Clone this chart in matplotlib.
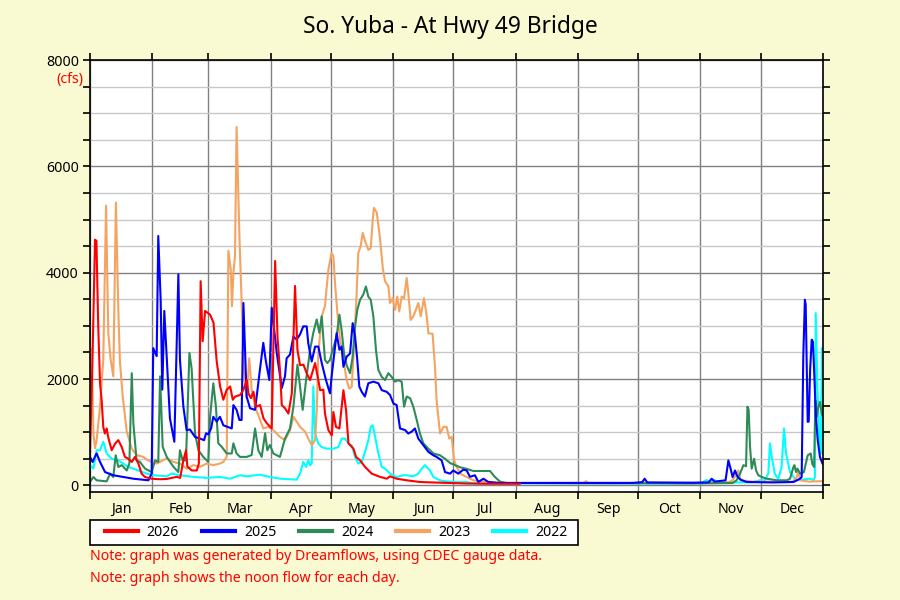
import matplotlib
matplotlib.use("Agg")
import matplotlib.pyplot as plt
from matplotlib.patches import Rectangle
from matplotlib.ticker import FixedLocator, MultipleLocator, NullFormatter

plt.rcParams["font.family"] = ["Noto Sans", "DejaVu Sans"]

# ---- data (day of year, noon flow in cfs) ----
MONTHS = ["Jan", "Feb", "Mar", "Apr", "May", "Jun",
          "Jul", "Aug", "Sep", "Oct", "Nov", "Dec"]
MONTH_START = [0, 31, 59, 90, 120, 151, 181, 212, 243, 273, 304, 334, 365]

DAY_2026 = [0, 1.2, 2.5, 3.2, 4.1, 5.0, 5.8, 6.6, 7.4, 8.3, 9.1, 10.8, 12.5, 14.1,
            15.8, 17.4, 19.1, 20.8, 22.4, 24.1, 25.7, 27.4, 30.7, 35, 38.2, 43.2,
            44.9, 46.5, 47.8, 48.5, 50.7, 53.2, 54.2, 55.1, 56.1, 57.3, 59.8, 61.5,
            63.1, 64.8, 66.4, 68.1, 69.8, 71.1, 72.3, 74.8, 76.4, 78.1, 78.9, 80.1,
            81.4, 82.7, 84.7, 86.4, 88.0, 90.5, 92.2, 93.4, 94.7, 95.5, 97.1, 98.8,
            100.5, 102.1, 103.3, 104.6, 106.3, 108, 109.6, 112.1, 113.7, 114.6,
            116.2, 117.0, 118.7, 120.4, 121.2, 122.5, 124.2, 126.2, 127.5, 128.7,
            131.2, 132.5, 134.5, 137.0, 140.3, 144.4, 147.8, 149.4, 152.7, 157.7,
            164.3, 174.3, 187.6, 197.5, 214]
CFS_2026 = [600, 2300, 4620, 4600, 2990, 1920, 1600, 1100, 975, 1070, 900, 660, 785, 850,
            720, 535, 500, 440, 535, 410, 220, 157, 125, 115, 120, 160,
            140, 470, 660, 350, 280, 280, 410, 3840, 2710, 3280, 3210, 3060,
            2330, 1860, 1610, 1800, 1860, 1610, 1670, 1700, 1800, 1980, 1730, 1640,
            1760, 1480, 1510, 1260, 1170, 1070, 4220, 2770, 2110, 1510, 1450, 1350,
            1730, 3750, 2550, 2260, 2270, 2100, 1980, 2300, 1980, 1790,
            1800, 1350, 1040, 940, 1380, 1100, 1070, 1790, 1420, 790,
            690, 535, 470, 345, 220, 160, 125, 170, 125, 95,
            63, 50, 35, 30, 30]

DAY_2025 = [0, 1.3, 2.8, 3.3, 5.0, 7.5, 11.6, 16.6, 21.6, 29.1, 30.7, 31.5, 33.2, 34.0,
            35.2, 36.0, 37.0, 38.2, 39.8, 42.0, 44.0, 44.8, 46.5, 48.1, 49.8, 52.3,
            54.8, 56.8, 57.8, 58.9, 60.3, 61.4, 63.1, 64.7, 66.4, 70.6, 71.4, 73.0,
            74.4, 75.5, 76.4, 78.0, 79.7, 82.2, 84.7, 86.3, 87.6, 89.3, 90.5, 93.0,
            95.5, 97.1, 97.9, 99.6, 101.3, 102.9, 104.6, 106.2, 107.9, 108.7, 110.4,
            112.1, 113.7, 115.4, 117.5, 119.5, 120.3, 122.0, 122.8, 124.2, 125.3,
            126.2, 127.8, 129.5, 130.8, 132.0, 133.1, 134.1, 135.3, 136.9, 138.6,
            141.1, 143.6, 145.3, 147.7, 149.4, 151.1, 152.7, 154.4, 156.9, 158.5,
            160.2, 161.8, 163.5, 166.0, 168.5, 171.0, 172.6, 175.1, 176.8, 179.3,
            180.9, 183.4, 185.9, 187.6, 189.2, 191.7, 193.4, 195.9, 198.4, 204.2,
            214, 240, 270, 275, 276.2, 277.5, 300, 308, 309.6, 311, 316.5, 317.9,
            319.0, 320.0, 321.2, 322.5, 324, 327, 340, 350.3, 353.6, 354.4, 355.2,
            356.0, 356.4, 357.4, 357.9, 358.6, 359.4, 360.0, 360.6, 361.5, 362.4,
            363.5, 364.7, 365]
CFS_2025 = [535, 440, 565, 600, 440, 250, 190, 157, 125, 95, 220, 2580, 2430, 4690,
            3470, 1800, 3280, 2430, 1260, 820, 3970, 2360, 1480, 1040, 1050, 910,
            880, 850, 980, 960, 1070, 1290, 1200, 1290, 1130, 1070, 1510, 1420,
            1230, 1230, 3430, 1670, 1450, 1420, 2200, 2680, 2330, 1980, 3340, 2490,
            1830, 2050, 2390, 2460, 2800, 2740, 2840, 2990, 2990, 2670, 2330,
            2610, 2610, 2300, 1980, 1730, 2040, 2610, 2860, 2550, 2610,
            2230, 2420, 2480, 3050, 2800, 2360, 1860, 1760, 1670, 1920,
            1950, 1920, 1790, 1760, 1700, 1540, 1510, 1070, 1040, 975,
            1010, 1070, 880, 755, 630, 565, 535, 470, 250, 220,
            280, 220, 295, 280, 160, 190, 63, 125, 63, 44,
            45, 45, 45, 60, 125, 55, 50, 55, 125, 70, 95, 470,
            315, 157, 280, 157, 107, 63, 55, 63, 125, 157, 2420,
            3490, 3400, 1195, 1200, 2170, 2740, 2700, 2170, 1290, 850,
            535, 415, 400]

DAY_2024 = [0, 1.7, 3.3, 8.3, 10.0, 11.6, 12.8, 14.1, 15.8, 18.3, 19.6, 20.8, 21.6,
            23.2, 24.9, 27.4, 30.7, 32.4, 34.0, 34.9, 36.2, 38.2, 41.5, 44.0, 44.8,
            46.1, 47.8, 49.5, 50.6, 52.3, 54.0, 56.4, 58.9, 59.8, 61.4, 62.7, 63.9,
            65.6, 68.1, 70.6, 71.4, 73.0, 74.7, 78.0, 80.5, 82.2, 83.8, 85.5, 87.2,
            88.3, 89.6, 91.3, 94.6, 97.1, 99.6, 101.3, 103.3, 104.6, 105.9, 107.6,
            109.6, 111.2, 112.9, 114.2, 115.4, 117.0, 118.2, 119.5, 120.9, 122.8,
            124.2, 125.3, 126.5, 127.8, 129.5, 130.8, 132.0, 133.1, 134.5, 136.1,
            137.4, 138.6, 139.8, 141.1, 142.4, 143.6, 145.3, 146.9, 148.6, 150.2,
            151.9, 153.5, 155.2, 156.4, 157.7, 159.4, 161.0, 162.7, 164.3, 166.0,
            168.5, 171.0, 174.3, 176.8, 179.3, 181.8, 184.3, 187.6, 190.9, 199.2,
            201.7, 204.2, 207.5, 240, 280, 300, 320, 322, 323.7, 325.4, 326.7,
            327.4, 328.0, 328.7, 329.5, 330.7, 331.7, 332.8, 334.5, 337, 342, 347,
            348.6, 350.3, 350.8, 351.6, 352.3, 353.6, 355.5, 357.4, 358.9, 359.7,
            360.6, 361.2, 362.0, 362.7, 363.5, 364.4, 365]
CFS_2024 = [63, 157, 95, 75, 220, 157, 565, 345, 380, 280, 410, 2110, 1160,
            470, 440, 315, 250, 470, 440, 2050, 725, 535, 350, 250, 660,
            470, 470, 2490, 2200, 980, 660, 535, 440, 1290, 1920, 1480, 790,
            725, 600, 600, 790, 600, 535, 535, 570, 1070, 660, 535, 980,
            660, 760, 600, 535, 880, 1070, 1480, 2270, 1860, 1420, 1980,
            2550, 2870, 3120, 2870, 3180, 2360, 2300, 2360, 2550, 2800,
            3210, 2920, 2480, 2260, 2110, 2420, 2990, 3300, 3490, 3590,
            3740, 3550, 3490, 3180, 2550, 2170, 2040, 1980, 2110, 2040,
            1950, 1980, 1950, 1480, 1670, 1640, 1480, 1230, 975, 790,
            690, 600, 565, 500, 420, 380, 340, 310, 270, 270,
            155, 70, 45, 40, 40, 35, 45, 95, 220, 380, 360,
            1480, 1420, 720, 315, 500, 280, 190, 157, 125, 95, 95,
            125, 345, 380, 250, 315, 220, 250, 565, 600, 400,
            345, 1600, 1290, 1480, 1570, 1350, 1300]

DAY_2023 = [0, 0.8, 1.7, 2.5, 3.3, 5.0, 6.6, 8.0, 9.1, 10.3, 11.6, 12.9, 14.1, 14.9,
            16.3, 18.3, 20.8, 23.2, 26.6, 28.2, 30.7, 33.2, 38.2, 41.5, 44.8, 48.1,
            51.5, 54.8, 58.1, 61.4, 64.7, 66.4, 68.1, 68.9, 70.1, 70.7, 71.4, 72.2,
            73.0, 74.4, 75.5, 76.7, 78.0, 79.3, 80.5, 82.2, 84.7, 86.3, 88.8, 91.3,
            94.6, 97.1, 99.6, 101.3, 104.6, 107.1, 108.7, 110.4, 112.1, 113.0, 113.7,
            115.4, 117.0, 118.7, 120.3, 121.2, 122.0, 123.2, 124.5, 126.2, 127.8,
            129.1, 130.3, 131.1, 132.5, 133.6, 134.8, 135.8, 137.0, 138.6, 139.8,
            140.8, 141.4, 142.8, 144.4, 145.8, 146.9, 148.6, 149.4, 150.7, 151.9,
            153.0, 154.0, 155.2, 156.4, 157.7, 158.5, 159.7, 161.0, 162.3, 163.5,
            164.7, 166.3, 167.7, 168.5, 170.6, 171.8, 172.6, 174.3, 176.0, 177.6,
            178.9, 180.1, 181.3, 182.6, 184.3, 187.6, 190.9, 197.5, 204.2, 240,
            246, 247, 248, 300, 318, 320, 322.9, 324, 330, 350, 352, 352.8, 353.6,
            358, 365]
CFS_2023 = [2610, 2550, 975, 700, 850, 1480, 2360, 5260, 2870, 2360, 2050, 5320, 3310, 2330,
            1670, 1010, 690, 570, 535, 485, 440, 410, 505, 440, 410, 315,
            380, 350, 410, 380, 410, 440, 535, 4410, 4060, 3370, 3990, 4310,
            6740, 4690, 3430, 2110, 1640, 2390, 1800, 1480, 1230, 1070, 1100, 1040,
            910, 850, 1040, 1290, 1100, 1010, 880, 755, 850, 1480, 2480,
            3180, 3370, 4060, 4370, 4310, 3810, 3240, 2740, 2360, 1980,
            1820, 1850, 2360, 3370, 4370, 4500, 4750, 4590, 4430, 4460,
            5000, 5220, 5130, 4650, 4090, 3840, 3740, 3430, 3520, 3300,
            3550, 3270, 3550, 3520, 3900, 3620, 3110, 3180, 3300, 3430,
            3180, 3520, 3180, 2860, 2850, 2230, 1600, 975, 1100, 1100,
            880, 910, 470, 345, 220, 157, 94, 63, 45, 50,
            50, 80, 50, 45, 60, 95, 280, 95, 70, 70, 157, 280, 95,
            70, 80]

DAY_2022 = [0, 1.7, 3.3, 5.0, 6.6, 8.3, 10.8, 14.1, 19.1, 24.1, 28.2, 31.5, 38.2, 40.7,
            44.8, 51.5, 58.1, 64.7, 69.7, 74.7, 78.0, 84.7, 88.0, 94.6, 102.9, 104.6,
            106.2, 107.6, 108.7, 109.6, 110.4, 111.2, 112.1, 113.7, 115.4, 117.9,
            121.2, 123.7, 125.3, 127.0, 128.7, 130.3, 132.0, 133.6, 135.3, 137.0,
            138.6, 139.8, 140.8, 142.0, 143.6, 145.3, 146.9, 149.4, 152.7, 156.0,
            157.7, 161.0, 163.5, 165.2, 166.8, 169.3, 171.0, 174.3, 177.6, 182.6,
            187.6, 190.9, 197.5, 240, 280, 304, 307, 309, 311, 313, 330, 333.7, 336,
            337.8, 338.6, 339.5, 341, 342.7, 344.4, 345.6, 346.6, 348.6, 350.3, 352,
            358.6, 360.3, 361.0, 361.4, 362.3, 363.2, 363.9, 364.5, 365]
CFS_2022 = [380, 315, 660, 660, 820, 600, 500, 470, 345, 280, 220, 190, 170, 220,
            190, 160, 140, 160, 125, 190, 170, 200, 170, 125, 107, 220,
            440, 345, 470, 380, 410, 1860, 975, 785, 720, 690,
            690, 720, 880, 880, 785, 755, 535, 410, 440, 630,
            850, 1100, 1130, 910, 600, 345, 315, 220, 157, 190,
            190, 170, 220, 315, 380, 280, 157, 94, 75, 60,
            60, 40, 40, 40, 35, 40, 100, 60, 100, 50, 60, 95, 95,
            220, 790, 535, 220, 120, 345, 1070, 600, 250, 157, 95,
            125, 95, 157, 3240, 1800, 800, 600, 2580, 600]

SERIES = [
    ("2022", DAY_2022, CFS_2022, "#00ffff"),
    ("2023", DAY_2023, CFS_2023, "#f4a460"),
    ("2024", DAY_2024, CFS_2024, "#2e8b57"),
    ("2025", DAY_2025, CFS_2025, "#0000ff"),
    ("2026", DAY_2026, CFS_2026, "#ff0000"),
]

# ---- figure ----
fig = plt.figure(figsize=(9, 6), dpi=100, facecolor="#fafad2")
ax = fig.add_axes([0.1, 0.18, 0.8144, 0.72])
ax.set_facecolor("white")

lines = {}
for name, days, cfs, color in SERIES:
    (ln,) = ax.plot(days, cfs, color=color, linewidth=1.5, label=name)
    lines[name] = ln

ax.set_xlim(0, 365)
ax.set_ylim(-125, 8000)

# month boundaries as major ticks, names centred in between
ax.xaxis.set_major_locator(FixedLocator(MONTH_START))
ax.xaxis.set_major_formatter(NullFormatter())
mids = [(a + b) / 2 for a, b in zip(MONTH_START[:-1], MONTH_START[1:])]
ax.xaxis.set_minor_locator(FixedLocator(mids))
ax.set_xticklabels(MONTHS, minor=True)
ax.tick_params(axis="x", which="minor", length=0, pad=7, labelsize=10.2)
ax.tick_params(axis="x", which="major", length=5, width=1.2,
               direction="out", top=True, bottom=True)

ax.yaxis.set_major_locator(MultipleLocator(2000))
ax.yaxis.set_minor_locator(MultipleLocator(500))
ax.set_yticks([0, 2000, 4000, 6000, 8000])
ax.tick_params(axis="y", which="both", length=5, width=1.2, direction="out",
               left=True, right=True, labelsize=10.2, pad=3)

ax.grid(axis="x", which="major", color="#808080", linewidth=1)
ax.grid(axis="y", which="major", color="#808080", linewidth=1)
ax.grid(axis="y", which="minor", color="#c8c8c8", linewidth=1)
ax.set_axisbelow(True)

for sp in ax.spines.values():
    sp.set_linewidth(1.2)
    sp.set_color("black")

# ---- texts ----
fig.text(0.5, 1 - 27 / 600, "So. Yuba - At Hwy 49 Bridge",
         ha="center", va="center", fontsize=16.4)
fig.text(83 / 900, 1 - 80 / 600, "(cfs)", ha="right", va="center",
         color="red", fontsize=10.2)

# legend box below the plot
fig.patches.append(Rectangle((90 / 900, 1 - 545 / 600), 488 / 900, 25 / 600,
                             transform=fig.transFigure, facecolor="white",
                             edgecolor="black", linewidth=1.2))
handles = [lines[n] for n in ["2026", "2025", "2024", "2023", "2022"]]
leg = fig.legend(handles, [h.get_label() for h in handles],
                 loc="center left", bbox_to_anchor=(105 / 900, 1 - 532.5 / 600),
                 ncol=5, fontsize=10.2, frameon=False, borderpad=0,
                 handlelength=2.3, handletextpad=0.65, columnspacing=1.62,
                 borderaxespad=0)
for lh in leg.legend_handles:
    lh.set_linewidth(3)

fig.text(0.1, 1 - 557 / 600,
         "Note: graph was generated by Dreamflows, using CDEC gauge data.",
         ha="left", va="center", color="red", fontsize=10.2)
fig.text(0.1, 1 - 578 / 600,
         "Note: graph shows the noon flow for each day.",
         ha="left", va="center", color="red", fontsize=10.2)

fig.savefig("out.png", dpi=100, facecolor=fig.get_facecolor())
